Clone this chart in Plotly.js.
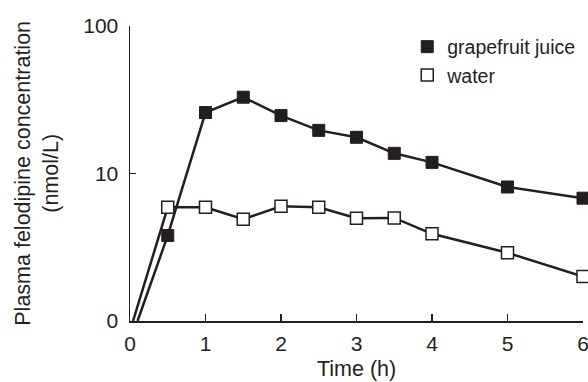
<!DOCTYPE html>
<html>
<head>
<meta charset="utf-8">
<script src="https://cdn.plot.ly/plotly-3.0.1.min.js"></script>
<style>html,body{margin:0;padding:0;background:#fff;}#chart{width:588px;height:382px;}</style>
</head>
<body>
<div id="chart"></div>
<script>
// Time points (h)
var timeGJ = [0.10, 0.5, 1, 1.5, 2, 2.5, 3, 3.5, 4, 5, 6];
var timeW  = [0.04, 0.5, 1, 1.5, 2, 2.5, 3, 3.5, 4, 5, 6];
// Plasma felodipine concentration (nmol/L); first value drawn at the "0" baseline
var grapefruitJuice = [1, 3.8, 25.9, 32.9, 24.7, 19.6, 17.6, 13.7, 11.9, 8.1, 6.8];
var water           = [1, 5.9, 5.9, 4.9, 6.0, 5.9, 4.97, 5.0, 3.9, 2.9, 2.0];
var xTicks = [0, 1, 2, 3, 4, 5, 6];
var yTickVals = [1, 10, 100];
var yTickText = ['0', '10', '100'];

var ink = '#231f20';
var font = 'Liberation Sans, Arial, sans-serif';

var traces = [
  {x: timeGJ, y: grapefruitJuice, mode: 'lines', line: {color: ink, width: 2.5}, showlegend: false, hoverinfo: 'skip'},
  {x: timeW, y: water, mode: 'lines', line: {color: ink, width: 2.5}, showlegend: false, hoverinfo: 'skip'},
  {x: timeGJ.slice(1), y: grapefruitJuice.slice(1), mode: 'markers', name: 'grapefruit juice', cliponaxis: false,
   marker: {symbol: 'square', size: 12, color: ink, line: {color: ink, width: 1}}},
  {x: timeW.slice(1), y: water.slice(1), mode: 'markers', name: 'water', cliponaxis: false,
   marker: {symbol: 'square', size: 12, color: '#ffffff', line: {color: ink, width: 1.5}}}
];

var layout = {
  width: 588, height: 382,
  margin: {l: 129.5, r: 5.3, t: 26, b: 61},
  paper_bgcolor: '#fff', plot_bgcolor: '#fff',
  font: {family: font, size: 20, color: ink},
  showlegend: true,
  legend: {x: 0.612, y: 0.995, xanchor: 'left', yanchor: 'top', bgcolor: 'rgba(0,0,0,0)',
           font: {family: font, size: 19.5, color: ink}, tracegroupgap: 0},
  xaxis: {range: [0, 6], tickvals: xTicks, ticktext: xTicks.map(String), showgrid: false, zeroline: false,
          showline: true, linecolor: ink, linewidth: 1.5, ticks: 'inside', ticklen: 7, tickwidth: 1.5, tickcolor: ink,
          ticklabeloverflow: 'allow', ticklabelstandoff: 3,
          tickfont: {family: font, size: 21, color: ink}},
  yaxis: {type: 'log', range: [0, 2], tickvals: yTickVals, ticktext: yTickText, showgrid: false, zeroline: false,
          showline: true, linecolor: ink, linewidth: 1.5, ticks: 'inside', ticklen: 6, tickwidth: 1.5, tickcolor: ink,
          ticklabelstandoff: 6,
          tickfont: {family: font, size: 21, color: ink}},
  annotations: [
    {text: 'Time (h)', xref: 'x', yref: 'paper', x: 3, y: -0.163, xanchor: 'center', yanchor: 'middle',
     showarrow: false, font: {family: font, size: 21.5, color: ink}},
    {text: 'Plasma felodipine concentration<br>(nmol/L)', xref: 'paper', yref: 'paper', x: -0.207, y: 0.5,
     xanchor: 'center', yanchor: 'middle', textangle: -90, showarrow: false,
     font: {family: font, size: 21.5, color: ink}}
  ]
};

Plotly.newPlot('chart', traces, layout, {staticPlot: true, displayModeBar: false});
</script>
</body>
</html>
